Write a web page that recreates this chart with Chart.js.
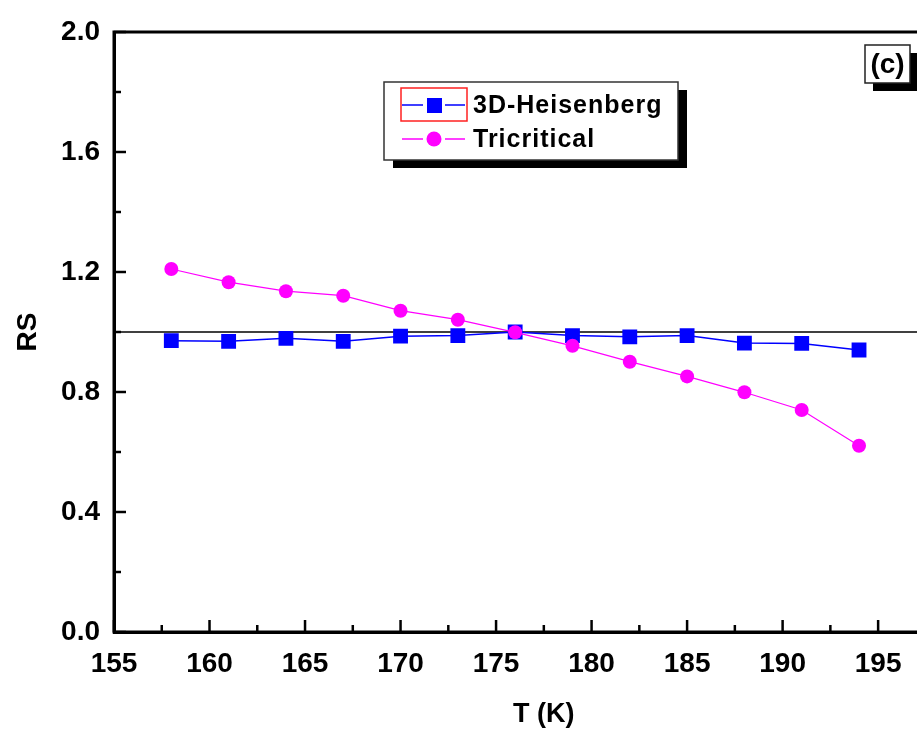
<!DOCTYPE html>
<html>
<head>
<meta charset="utf-8">
<script src="https://cdn.jsdelivr.net/npm/chart.js@4.4.1/dist/chart.umd.min.js"></script>
<style>
  html, body { margin: 0; padding: 0; overflow: hidden; background: #fff; }
  #wrap { width: 1012px; height: 731px; }
</style>
</head>
<body>
<div id="wrap"><canvas id="myChart" width="1012" height="731"></canvas></div>
<script>
// Data
const temps = [158, 161, 164, 167, 170, 173, 176, 179, 182, 185, 188, 191, 194];
const heisenberg = [0.971, 0.969, 0.979, 0.969, 0.986, 0.988, 1.0, 0.988, 0.984, 0.988, 0.963, 0.962, 0.94];
const tricritical = [1.21, 1.166, 1.136, 1.121, 1.071, 1.041, 0.999, 0.954, 0.901, 0.852, 0.799, 0.74, 0.621];
const seriesNames = ['3D-Heisenberg', 'Tricritical'];
const refX = [155, 200];
const refY = [1.0, 1.0];
const xMin = 155, xMax = 200, xStep = 5;
const yMin = 0, yMax = 2.0, yStep = 0.4;
const panelLabel = '(c)';

const FONT = "'Liberation Sans', Arial, sans-serif";

// inward ticks, frame, legend box and panel label
const framePlugin = {
    id: 'frame',
    afterDraw(chart) {
        const ctx = chart.ctx;
        const a = chart.chartArea;
        const xs = chart.scales.x, ys = chart.scales.y;
        ctx.save();
        ctx.strokeStyle = '#000';
        ctx.lineWidth = 3;
        ctx.strokeRect(a.left, a.top, a.right - a.left, a.bottom - a.top);

        ctx.lineWidth = 2.5;
        // x ticks (major + minor)
        for (let v = xMin; v <= xMax + 0.001; v += xStep / 2) {
            const px = xs.getPixelForValue(v);
            const major = Math.abs((v - xMin) % xStep) < 0.001;
            const len = major ? 12 : 7;
            ctx.beginPath();
            ctx.moveTo(px, a.bottom);
            ctx.lineTo(px, a.bottom - len);
            ctx.stroke();
        }
        // y ticks (major + minor)
        for (let v = yMin; v <= yMax + 0.001; v += yStep / 2) {
            const py = ys.getPixelForValue(v);
            const major = Math.abs(Math.round(v / yStep) * yStep - v) < 0.001;
            const len = major ? 12 : 7;
            ctx.beginPath();
            ctx.moveTo(a.left, py);
            ctx.lineTo(a.left + len, py);
            ctx.stroke();
        }

        // legend (Heisenberg first)
        const ds = chart.data.datasets;
        const legendRows = [ds[1], ds[0]];
        const bx = 384, by = 82, bw = 294, bh = 78;
        ctx.fillStyle = '#000';
        ctx.fillRect(bx + 9, by + 8, bw, bh);
        ctx.fillStyle = '#fff';
        ctx.fillRect(bx, by, bw, bh);
        ctx.lineWidth = 1.5;
        ctx.strokeStyle = '#333';
        ctx.strokeRect(bx, by, bw, bh);
        ctx.strokeStyle = '#ff2020';
        ctx.strokeRect(401, 88, 66, 33);

        const rows = [105, 139];
        for (let i = 0; i < 2; i++) {
            const d = legendRows[i];
            const y = rows[i];
            ctx.strokeStyle = d.borderColor;
            ctx.lineWidth = 1.5;
            ctx.beginPath();
            ctx.moveTo(402, y); ctx.lineTo(423, y);
            ctx.moveTo(445, y); ctx.lineTo(465, y);
            ctx.stroke();
            ctx.fillStyle = d.pointBackgroundColor;
            if (d.pointStyle === 'rect') {
                ctx.fillRect(427, y - 7, 15, 15);
            } else {
                ctx.beginPath();
                ctx.arc(434, y, 7.5, 0, Math.PI * 2);
                ctx.fill();
            }
            ctx.fillStyle = '#000';
            ctx.font = 'bold 25px ' + FONT;
            ctx.letterSpacing = '1px';
            ctx.textAlign = 'left';
            ctx.textBaseline = 'middle';
            ctx.fillText(d.label, 473, y + 1);
            ctx.letterSpacing = '0px';
        }

        // panel label
        ctx.fillStyle = '#000';
        ctx.fillRect(873, 53, 45, 38);
        ctx.fillStyle = '#fff';
        ctx.fillRect(865, 45, 45, 38);
        ctx.strokeStyle = '#222';
        ctx.lineWidth = 1.5;
        ctx.strokeRect(865, 45, 45, 38);
        ctx.fillStyle = '#000';
        ctx.font = 'bold 28px ' + FONT;
        ctx.textAlign = 'center';
        ctx.textBaseline = 'middle';
        ctx.fillText(panelLabel, 887.5, 65);
        ctx.restore();
    }
};

const data = {
    datasets: [
        {
            label: seriesNames[1],
            data: temps.map((t, i) => ({x: t, y: tricritical[i]})),
            borderColor: '#ff00ff',
            backgroundColor: '#ff00ff',
            pointBackgroundColor: '#ff00ff',
            pointBorderColor: '#ff00ff',
            borderWidth: 1.2,
            pointStyle: 'circle',
            pointRadius: 7,
            pointBorderWidth: 0,
            order: 0
        },
        {
            label: seriesNames[0],
            data: temps.map((t, i) => ({x: t, y: heisenberg[i]})),
            borderColor: '#0000ff',
            backgroundColor: '#0000ff',
            pointBackgroundColor: '#0000ff',
            pointBorderColor: '#0000ff',
            borderWidth: 1.5,
            pointStyle: 'rect',
            pointRadius: 10.5,
            pointBorderWidth: 0,
            order: 1
        },
        {
            label: 'ref',
            data: refX.map((x, i) => ({x: x, y: refY[i]})),
            borderColor: '#000',
            borderWidth: 1.5,
            pointRadius: 0,
            order: 2
        }
    ]
};

const config = {
    type: 'line',
    data: data,
    options: {
        responsive: false,
        animation: false,
        layout: { padding: { top: 32, right: 25, left: 0, bottom: 0 } },
        plugins: {
            legend: { display: false },
            tooltip: { enabled: false }
        },
        scales: {
            x: {
                type: 'linear',
                min: xMin, max: xMax,
                afterFit: s => { s.height = 99; },
                grid: { drawOnChartArea: false, drawTicks: false },
                border: { color: '#000', width: 3 },
                ticks: {
                    stepSize: xStep,
                    padding: 15,
                    color: '#000',
                    font: { family: FONT, size: 28, weight: 'bold' }
                },
                title: {
                    display: true,
                    text: 'T (K)',
                    color: '#000',
                    padding: { top: 0, bottom: 0 },
                    font: { family: FONT, size: 27, weight: 'bold' }
                }
            },
            y: {
                min: yMin, max: yMax,
                afterFit: s => { s.width = 114; },
                grid: { drawOnChartArea: false, drawTicks: false },
                border: { color: '#000', width: 3 },
                ticks: {
                    stepSize: yStep,
                    padding: 14,
                    color: '#000',
                    callback: v => v.toFixed(1),
                    font: { family: FONT, size: 28, weight: 'bold' }
                },
                title: {
                    display: true,
                    text: 'RS',
                    color: '#000',
                    padding: { top: 11, bottom: 0 },
                    font: { family: FONT, size: 28, weight: 'bold' }
                }
            }
        }
    },
    plugins: [framePlugin]
};

var myChart = new Chart(document.getElementById('myChart'), config);
</script>
</body>
</html>
